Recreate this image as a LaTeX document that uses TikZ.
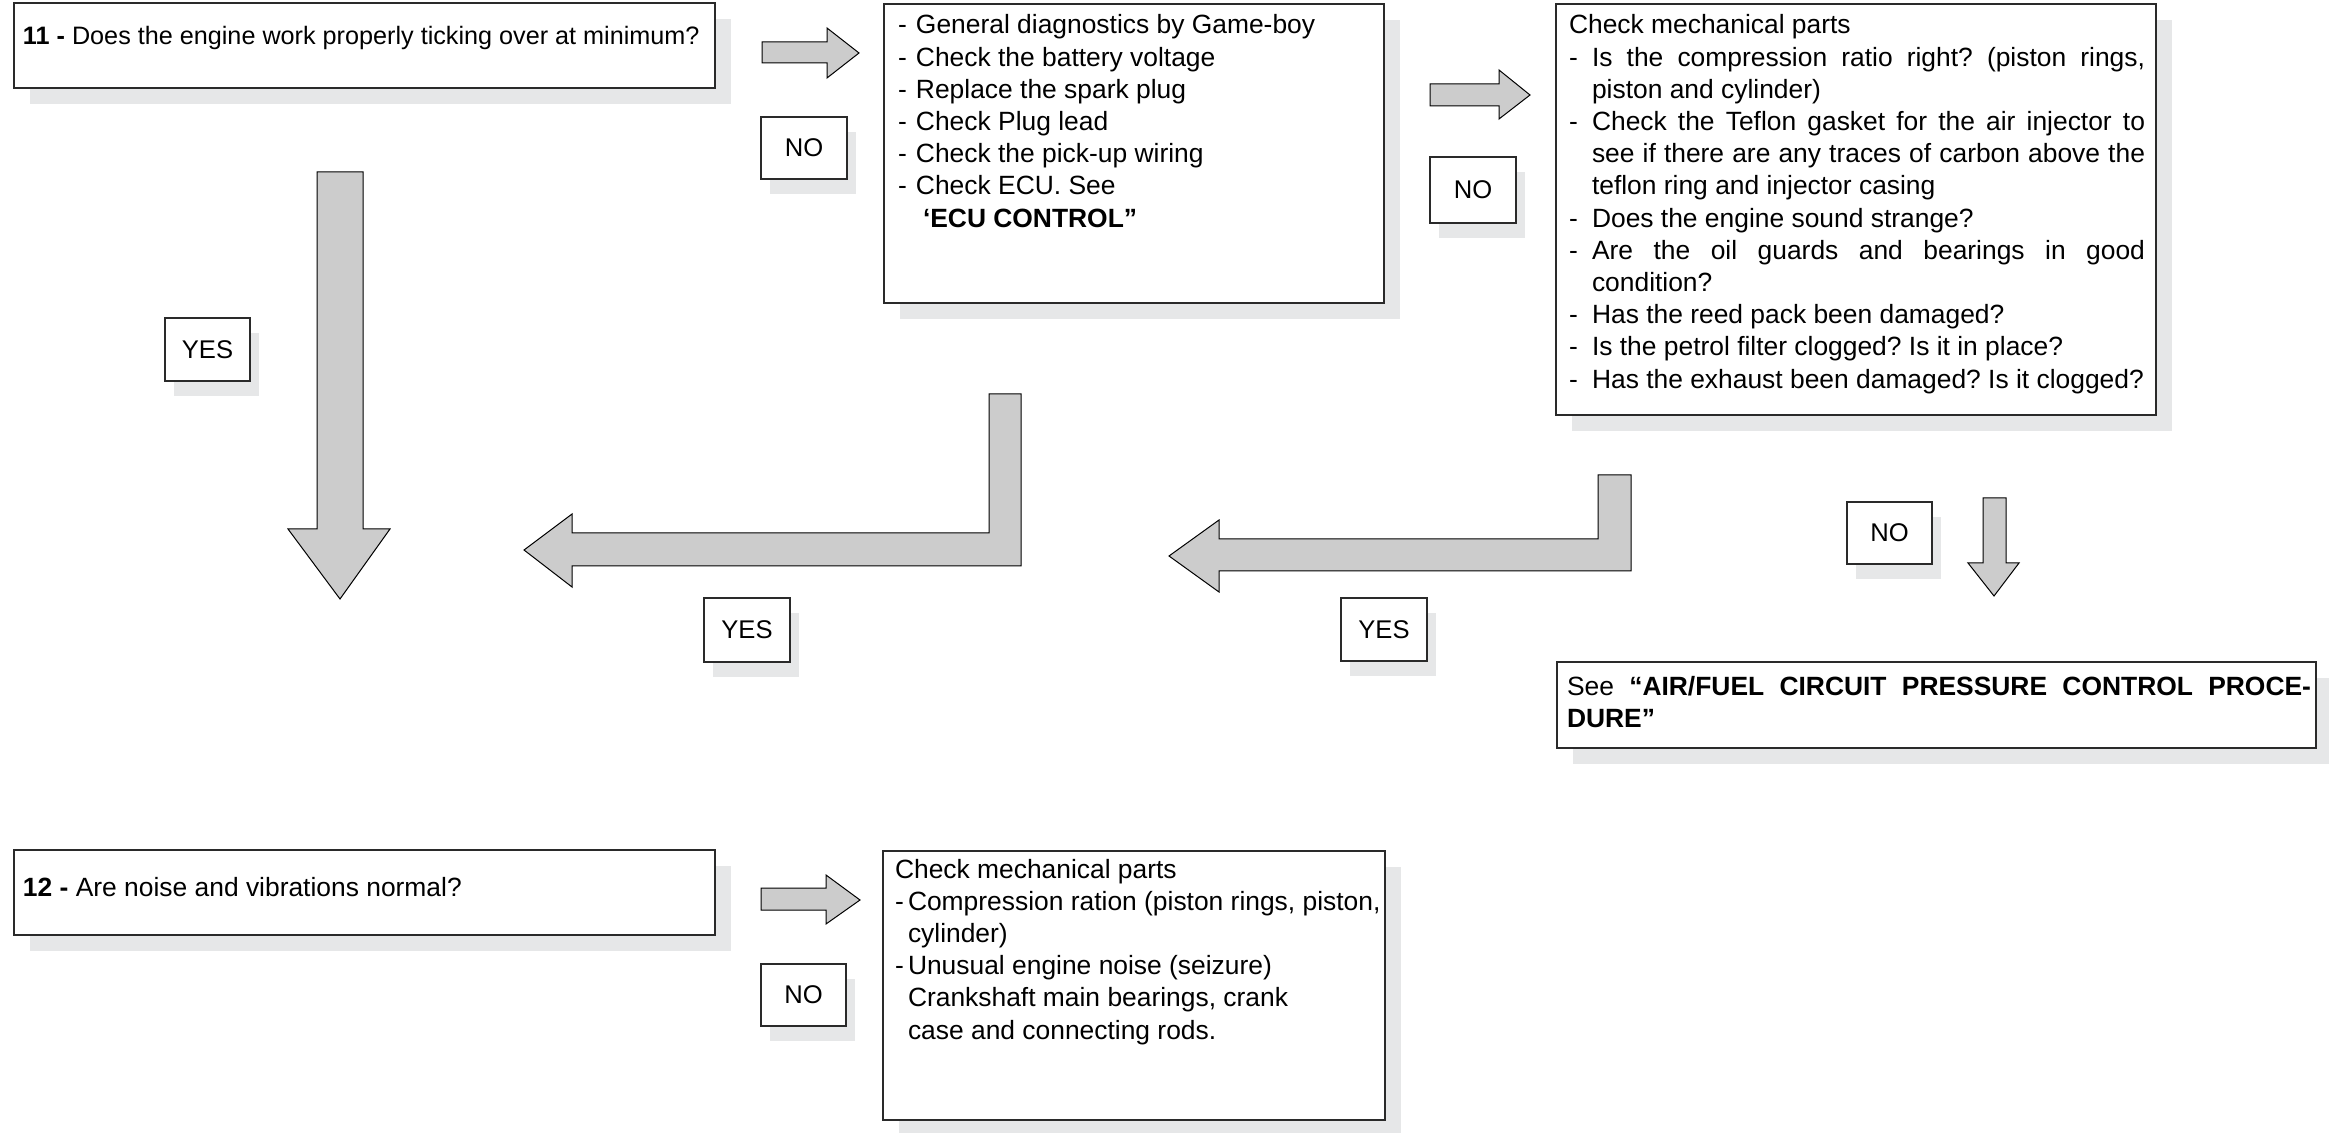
\documentclass[tikz,border=0pt]{standalone}
\usepackage{fontspec}
\setmainfont{Liberation Sans}
\usetikzlibrary{shadows}
\definecolor{shadowgray}{HTML}{E6E7E8}
\definecolor{arrowgray}{HTML}{CCCCCC}
\definecolor{lineclr}{HTML}{2A2A2A}
\newcommand{\dsh}[1]{\makebox[#1][l]{-}}
\newcommand{\jline}[1]{\makebox[288pt][s]{#1}}
\frenchspacing
\begin{document}
\begin{tikzpicture}[x=0.5pt,y=-0.5pt,
  box/.style={draw=lineclr, line width=0.8pt, fill=white, anchor=north west, inner sep=0pt, outer sep=0pt, rectangle},
  bigbox/.style={box, drop shadow={shadow xshift=8pt, shadow yshift=-8pt, fill=shadowgray, opacity=1, draw=none}},
  lbl/.style={box, font=\fontsize{12.8}{15}\selectfont, drop shadow={shadow xshift=4.5pt, shadow yshift=-7.5pt, fill=shadowgray, opacity=1, draw=none}},
  txt/.style={anchor=north west, inner sep=0pt, outer sep=0pt, align=left, font=\fontsize{13.2}{16.1}\selectfont},
  blockarrow/.style={fill=arrowgray, draw=black, line width=0.5pt, line join=miter}]

\useasboundingbox (0,0) rectangle (2329,1133);

% ---------- question 11 ----------
\node[bigbox, minimum width=350.5pt, minimum height=42.5pt] (q11) at (14,3) {};
\node[txt, font=\fontsize{12.6}{16}\selectfont] (q11t) at (23,25) {\rule{0pt}{10pt}\textbf{11 -} Does the engine work properly ticking over at minimum?};

% ---------- general diagnostics ----------
\node[bigbox, minimum width=250pt, minimum height=149.5pt] (gb) at (884,4) {};
\node[txt] (gbt) at (898,14) {\rule{0pt}{10pt}\dsh{9pt}General diagnostics by Game-boy\\
\dsh{9pt}Check the battery voltage\\
\dsh{9pt}Replace the spark plug\\
\dsh{9pt}Check Plug lead\\
\dsh{9pt}Check the pick-up wiring\\
\dsh{9pt}Check ECU. See\\
\hspace*{12.5pt}\textbf{‘ECU CONTROL”}};

% ---------- mechanical parts (top) ----------
\node[bigbox, minimum width=300pt, minimum height=205.5pt] (mech) at (1556,4) {};
\node[txt] (mecht) at (1569,14) {\rule{0pt}{10pt}Check mechanical parts\\
\jline{\dsh{11.5pt}Is the compression ratio right? (piston rings,}\\
\hspace*{11.5pt}piston and cylinder)\\
\jline{\dsh{11.5pt}Check the Teflon gasket for the air injector to}\\
\jline{\hspace*{11.5pt}see if there are any traces of carbon above the}\\
\hspace*{11.5pt}teflon ring and injector casing\\
\dsh{11.5pt}Does the engine sound strange?\\
\jline{\dsh{11.5pt}Are the oil guards and bearings in good}\\
\hspace*{11.5pt}condition?\\
\dsh{11.5pt}Has the reed pack been damaged?\\
\dsh{11.5pt}Is the petrol filter clogged? Is it in place?\\
\dsh{11.5pt}Has the exhaust been damaged? Is it clogged?};

% ---------- air/fuel ----------
\node[bigbox, minimum width=379.5pt, minimum height=43pt] (air) at (1557,662) {};
\node[txt] (airt) at (1567,675) {\rule{0pt}{10pt}\makebox[372pt][s]{See \textbf{“AIR/FUEL CIRCUIT PRESSURE CONTROL PROCE-}}\\
\textbf{DURE”}};

% ---------- question 12 ----------
\node[bigbox, minimum width=350.5pt, minimum height=42.5pt] (q12) at (14,850) {};
\node[txt] (q12t) at (23,876) {\rule{0pt}{10pt}\textbf{12 -} Are noise and vibrations normal?};

% ---------- mechanical parts (bottom) ----------
\node[bigbox, minimum width=251pt, minimum height=134.5pt] (mech2) at (883,851) {};
\node[txt] (mech2t) at (895,858) {\rule{0pt}{10pt}Check mechanical parts\\
\dsh{6.5pt}Compression ration (piston rings, piston,\\
\hspace*{6.5pt}cylinder)\\
\dsh{6.5pt}Unusual engine noise (seizure)\\
\hspace*{6.5pt}Crankshaft main bearings, crank\\
\hspace*{6.5pt}case and connecting rods.};

% ---------- labels ----------
\node[lbl, minimum width=43pt, minimum height=31pt] (no1) at (761,117) {NO};
\node[lbl, minimum width=43pt, minimum height=33pt] (no2) at (1430,157) {NO};
\node[lbl, minimum width=42.5pt, minimum height=31pt] (no3) at (1847,502) {NO};
\node[lbl, minimum width=42.5pt, minimum height=31pt] (no4) at (761,964) {NO};
\node[lbl, minimum width=42.5pt, minimum height=31.5pt] (yes1) at (165,318) {YES};
\node[lbl, minimum width=43pt, minimum height=32pt] (yes2) at (704,598) {YES};
\node[lbl, minimum width=43pt, minimum height=31.5pt] (yes3) at (1341,598) {YES};

% ---------- block arrows ----------
\draw[blockarrow] (762,42) -- (827,42) -- (827,28) -- (859,53) -- (827,78) -- (827,63) -- (762,63) -- cycle;
\draw[blockarrow] (1430,84) -- (1499,84) -- (1499,70) -- (1530,95) -- (1499,119) -- (1499,106) -- (1430,106) -- cycle;
\draw[blockarrow] (761,888) -- (826,888) -- (826,875) -- (860,900) -- (826,924) -- (826,910) -- (761,910) -- cycle;
\draw[blockarrow] (317,172) -- (363,172) -- (363,529) -- (390,529) -- (340,599) -- (288,529) -- (317,529) -- cycle;
\draw[blockarrow] (989,394) -- (1021,394) -- (1021,566) -- (572,566) -- (572,587) -- (524,550) -- (572,514) -- (572,533) -- (989,533) -- cycle;
\draw[blockarrow] (1598,475) -- (1631,475) -- (1631,571) -- (1219,571) -- (1219,592) -- (1169,556) -- (1219,520) -- (1219,539) -- (1598,539) -- cycle;
\draw[blockarrow] (1983,498) -- (2006,498) -- (2006,563) -- (2019,563) -- (1994,596) -- (1968,563) -- (1983,563) -- cycle;
\end{tikzpicture}
\end{document}
